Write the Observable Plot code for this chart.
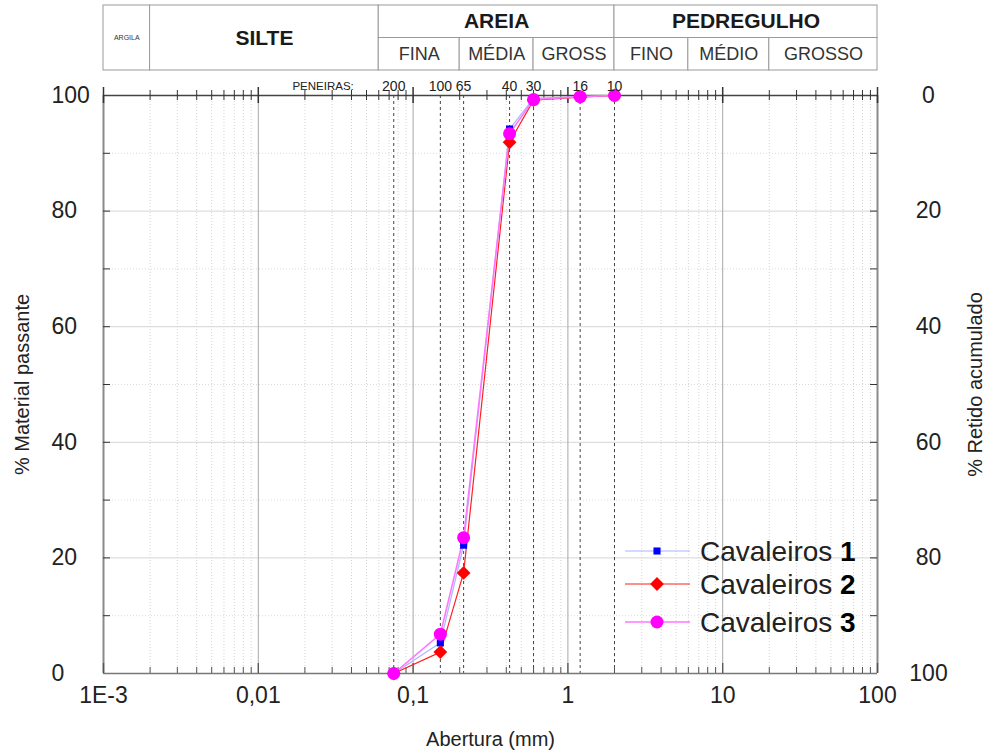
<!DOCTYPE html>
<html><head><meta charset="utf-8">
<script src="https://cdn.jsdelivr.net/npm/d3@7"></script>
<script src="https://cdn.jsdelivr.net/npm/@observablehq/plot@0.6"></script>
<style>
body{margin:0;background:#fff;font-family:"Liberation Sans",Arial,sans-serif;}
#wrap{position:relative;width:989px;height:754px;overflow:hidden;}
#wrap svg{display:block;}
#legend{position:absolute;left:615px;top:530px;}
</style></head><body><div id="wrap"></div>
<script>
// ---- data ----
const sieveLabels = ["200","100","65","40","30","16","10"];
const sieveMm = [0.075,0.15,0.212,0.42,0.6,1.2,2.0];
const seriesNames = ["Cavaleiros 1","Cavaleiros 2","Cavaleiros 3"];
const cav1 = [0,5.3,22.2,94.2,99.5,99.8,100];
const cav2 = [0,3.7,17.4,91.9,99.2,99.7,100];
const cav3 = [0,6.8,23.5,93.4,99.3,99.8,100];
const decades = [0.001,0.01,0.1,1,10,100];
const decadeLabels = ["1E-3","0,01","0,1","1","10","100"];
const yTicks = [0,20,40,60,80,100];
const yRetido = ["100","80","60","40","20","0"];
const topCells = ["ARGILA","SILTE","AREIA","PEDREGULHO"];
const topBounds = [[0.001,0.002],[0.002,0.06],[0.06,2],[2,100]];
const topRows = [2,2,1,1];
const subCells = ["FINA","MÉDIA","GROSS","FINO","MÉDIO","GROSSO"];
const subBounds = [[0.06,0.2],[0.2,0.6],[0.6,2],[2,6],[6,20],[20,100]];

const colors = ["#0000ff","#ff0000","#ff00ff"];
const lineColors = ["#aab6ff","#ff2020","#ff77ff"];

// ---- layout ----
const W = 989, ML = 103, MR = 112;
const H2 = 682, MT = 23, MB = 81;
const FH = H2 - MT - MB, FW = W - ML - MR;
const font = '"Liberation Sans", Arial, sans-serif';
const wrap = document.getElementById("wrap");

// ---- header table ----
const topData = topCells.map((t,i)=>({t, x1:topBounds[i][0], x2:topBounds[i][1], y1:0, y2:topRows[i]}));
const subData = subCells.map((t,i)=>({t, x1:subBounds[i][0], x2:subBounds[i][1], y1:1, y2:2}));
const cx = d=>Math.sqrt(d.x1*d.x2), cy = d=>(d.y1+d.y2)/2;
const header = Plot.plot({
  width: W, height: 72, marginTop: 5, marginBottom: 2, marginLeft: ML, marginRight: MR,
  style: {fontFamily: font, background: "#fff", color: "#222"},
  x: {type: "log", domain: [0.001, 100], axis: null},
  y: {domain: [0, 2], range: [5, 70], axis: null},
  marks: [
    Plot.rect(topData, {x1:"x1", x2:"x2", y1:"y1", y2:"y2", fill:"#fff", stroke:"#9a9a9a", strokeWidth:1}),
    Plot.rect(subData, {x1:"x1", x2:"x2", y1:"y1", y2:"y2", fill:"#fff", stroke:"#9a9a9a", strokeWidth:1}),
    Plot.text(topData.filter(d=>d.t==="ARGILA"), {x:cx, y:cy, text:"t", fontSize:7, fill:"#333"}),
    Plot.text(topData.filter(d=>d.t!=="ARGILA"), {x:cx, y:cy, text:"t", fontSize:21, fontWeight:"bold", fill:"#1a1a1a"}),
    Plot.text(subData, {x:cx, y:cy, text:"t", fontSize:18, fill:"#333"})
  ]
});
wrap.appendChild(header);

// ---- main chart ----
const rows = seriesNames.flatMap((s,i)=> sieveMm.map((mm,j)=>({series:s, idx:i, mm, pct:[cav1,cav2,cav3][i][j]})));
const minor = decades.slice(0,-1).flatMap(d=>[2,3,4,5,6,7,8,9].map(k=>d*k));
const majorInner = decades.slice(1,-1);
const tens = [10,20,30,40,50,60,70,80,90];

const main = Plot.plot({
  width: W, height: H2, marginTop: MT, marginBottom: MB, marginLeft: ML, marginRight: MR,
  style: {fontFamily: font, background: "transparent", color: "#222", overflow: "visible"},
  x: {type: "log", domain: [0.001, 100], axis: null},
  y: {domain: [0, 100], axis: null},
  marks: [
    // grid
    Plot.ruleX(minor, {stroke:"#d4d4d4", strokeDasharray:"1,2", strokeWidth:1}),
    Plot.ruleY([10,30,50,70,90], {stroke:"#dcdcdc", strokeDasharray:"1,2"}),
    Plot.ruleY([20,40,60,80], {stroke:"#d6d6d6"}),
    Plot.ruleX(majorInner, {stroke:"#a8a8a8"}),
    // sieve lines
    Plot.ruleX(sieveMm, {stroke:"#444", strokeDasharray:"3,3", strokeWidth:1}),
    // frame
    Plot.ruleX([0.001], {stroke:"#8a8a8a", strokeWidth:2}),
    Plot.ruleX([100], {stroke:"#8a8a8a", strokeWidth:2}),
    Plot.ruleY([0], {stroke:"#777", strokeWidth:1.5}),
    Plot.ruleY([100], {stroke:"#444", strokeWidth:1.5}),
    // top ruler ticks (crossing)
    Plot.ruleX(minor, {stroke:"#333", insetTop:-5, insetBottom:FH-5}),
    Plot.ruleX(decades, {stroke:"#333", strokeWidth:1.5, insetTop:-8, insetBottom:FH-8}),
    // bottom ticks (inward)
    Plot.ruleX(minor, {stroke:"#555", insetTop:FH-6}),
    Plot.ruleX(decades, {stroke:"#555", strokeWidth:1.3, insetTop:FH-10}),
    // y ticks
    Plot.ruleY(tens, {stroke:"#333", insetRight:FW-7}),
    Plot.ruleY(tens, {stroke:"#333", insetLeft:FW-7}),
    // series lines
    ...seriesNames.map((s,i)=> Plot.line(rows.filter(r=>r.idx===i), {x:"mm", y:"pct", stroke:lineColors[i], strokeWidth: i===2 ? 1.6 : 1.2})),
    // markers
    Plot.dot(rows.filter(r=>r.idx===0), {x:"mm", y:"pct", symbol:"square", r:4, fill:colors[0]}),
    Plot.dot(rows.filter(r=>r.idx===1), {x:"mm", y:"pct", symbol:"diamond2", r:6.2, fill:colors[1]}),
    Plot.dot(rows.filter(r=>r.idx===2), {x:"mm", y:"pct", symbol:"circle", r:6.5, fill:colors[2]}),
    // sieve labels
    Plot.text(sieveMm, {x:d=>d, text:(d,i)=>sieveLabels[i], frameAnchor:"top", dy:-14, fontSize:14, fill:"#222"}),
    Plot.text([sieveMm[0]], {x:d=>d, text:()=>"PENEIRAS:", frameAnchor:"top", dy:-14, dx:-40, textAnchor:"end", fontSize:11.5, fill:"#222"}),
    // axis labels
    Plot.text(yTicks, {y:d=>d, text:d=>String(d), frameAnchor:"left", dx:-52, textAnchor:"start", fontSize:23, fill:"#222"}),
    Plot.text(yTicks, {y:d=>d, text:(d,i)=>yRetido[i], frameAnchor:"right", dx:51, textAnchor:"middle", fontSize:23, fill:"#222"}),
    Plot.text(decades, {x:d=>d, text:(d,i)=>decadeLabels[i], frameAnchor:"bottom", dy:29, fontSize:23, fill:"#222"}),
    Plot.text(["Abertura (mm)"], {frameAnchor:"bottom", dy:72, fontSize:20, fill:"#222"}),
    Plot.text(["% Material passante"], {frameAnchor:"left", dx:-81, rotate:-90, textAnchor:"middle", fontSize:20, fill:"#222"}),
    Plot.text(["% Retido acumulado"], {frameAnchor:"right", dx:98, rotate:-90, textAnchor:"middle", fontSize:20, fill:"#222"})
  ]
});
wrap.appendChild(main);

// ---- legend ----
const leg = d3.create("svg").attr("id","legend").attr("width",274).attr("height",115)
  .style("font-family", font);
const rowY = [21, 54, 92];
seriesNames.forEach((s,i)=>{
  const g = leg.append("g").attr("transform",`translate(0,${rowY[i]})`);
  g.append("line").attr("x1",10).attr("x2",75).attr("y1",0).attr("y2",0).attr("stroke",lineColors[i]).attr("stroke-width", i===2?1.6:1.2);
  const sym = [d3.symbolSquare, d3.symbolDiamond2, d3.symbolCircle][i];
  const size = [Math.PI*16, Math.PI*6.2*6.2, Math.PI*6.5*6.5][i];
  g.append("path").attr("d", d3.symbol(sym, size)()).attr("transform","translate(42,0)").attr("fill",colors[i]);
  const parts = s.split(" ");
  const t = g.append("text").attr("x",85).attr("y",0).attr("dy","0.35em").attr("font-size",28).attr("fill","#222");
  t.append("tspan").text(parts[0] + " ");
  t.append("tspan").attr("font-weight","bold").attr("fill","#000").text(parts[1]);
});
wrap.appendChild(leg.node());
</script></body></html>
